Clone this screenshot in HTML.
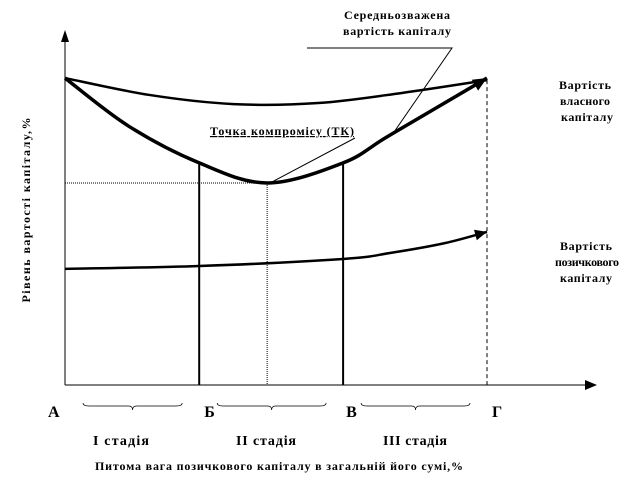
<!DOCTYPE html>
<html><head><meta charset="utf-8"><style>
html,body{margin:0;padding:0;background:#fff;}
svg{display:block;font-family:"Liberation Serif",serif;font-weight:bold;}
</style></head><body>
<svg id="chart" width="621" height="479" viewBox="0 0 621 479" xmlns="http://www.w3.org/2000/svg">
<g id="marks"></g>
<g font-size="12" fill="#000">
<text x="397" y="19" text-anchor="middle" textLength="106">Середньозважена</text>
<text x="397" y="35" text-anchor="middle" textLength="108">вартість капіталу</text>
<text x="210" y="135" textLength="144" text-decoration="underline">Точка компромісу (ТК)</text>
<text x="585" y="89" text-anchor="middle" textLength="52">Вартість</text>
<text x="585" y="105" text-anchor="middle" textLength="50">власного</text>
<text x="587" y="121" text-anchor="middle" textLength="52">капіталу</text>
<text x="586" y="250" text-anchor="middle" textLength="52">Вартість</text>
<text x="587" y="266" text-anchor="middle" textLength="64">позичкового</text>
<text x="586" y="282" text-anchor="middle" textLength="52">капіталу</text>
<text x="121" y="445" text-anchor="middle" font-size="14" textLength="56">І стадія</text>
<text x="266" y="445" text-anchor="middle" font-size="14" textLength="60">ІІ стадія</text>
<text x="415" y="445" text-anchor="middle" font-size="14" textLength="64">ІІІ стадія</text>
<text x="95" y="470" textLength="368" font-size="12">Питома вага позичкового капіталу в загальній його сумі,%</text>
<text transform="translate(30,210) rotate(-90)" text-anchor="middle" textLength="185" font-size="12">Рівень вартості капіталу,%</text>
</g>
</svg>
<script>
const categoriesPoints = ["А","Б","В","Г"];
const pointValues = [0, 31.8, 65.9, 100];
const compromiseX = 47.9;
const equityX = [0, 20, 40, 60, 80, 100];
const equityY = [87.2, 82.4, 79.8, 80.1, 83.0, 86.6];
const waccX = [0, 15, 31.8, 47.9, 65.9, 77, 100];
const waccY = [87.2, 73.6, 63.1, 57.4, 63.1, 71.0, 87.2];
const debtX = [0, 31.8, 65.9, 77, 90, 100];
const debtY = [33.0, 33.8, 35.8, 37.5, 40.3, 43.5];

const X0 = 65, X1 = 487, Y0 = 385, YTOP = 33;
function sx(v){ return X0 + v * (X1 - X0) / 100; }
function sy(v){ return Y0 - v * (Y0 - YTOP) / 100; }
const NS = "http://www.w3.org/2000/svg";
const g = document.getElementById("marks");
function mk(tag, attrs){ const e = document.createElementNS(NS, tag); for (const k in attrs) e.setAttribute(k, attrs[k]); g.appendChild(e); return e; }
function smoothPath(xs, ys){
  const p = xs.map((x,i)=>[sx(x), sy(ys[i])]);
  let d = "M" + p[0][0] + "," + p[0][1];
  for (let i=0;i<p.length-1;i++){
    const a = p[i-1]||p[i], b=p[i], c=p[i+1], e=p[i+2]||p[i+1];
    const c1=[b[0]+(c[0]-a[0])/6, b[1]+(c[1]-a[1])/6];
    const c2=[c[0]-(e[0]-b[0])/6, c[1]-(e[1]-b[1])/6];
    d += " C"+c1[0]+","+c1[1]+" "+c2[0]+","+c2[1]+" "+c[0]+","+c[1];
  }
  return d;
}
function arrowHead(xs, ys, size){
  const n = xs.length;
  const ex = sx(xs[n-1]), ey = sy(ys[n-1]);
  const px = sx(xs[n-2]), py = sy(ys[n-2]);
  const ang = Math.atan2(ey-py, ex-px);
  const bx = ex - size*Math.cos(ang), by = ey - size*Math.sin(ang);
  const w = size*0.45;
  const pts = [[ex,ey],[bx - w*Math.sin(ang), by + w*Math.cos(ang)],[bx + w*Math.sin(ang), by - w*Math.cos(ang)]];
  return pts.map(q=>q.join(",")).join(" ");
}
let e;
e = mk("line",{x1:X0,y1:Y0,x2:X0,y2:42,stroke:"#000","stroke-width":1});


e = mk("polygon",{points:"65,30 61,42 69,42",fill:"#000"});


e = mk("line",{x1:X0,y1:Y0,x2:586,y2:Y0,stroke:"#000","stroke-width":1});


e = mk("polygon",{points:"597,385 585,380 585,390",fill:"#000"});


const tkX = sx(compromiseX);
let tkIdx = waccX.indexOf(compromiseX), tkY = sy(waccY[tkIdx]);
e = mk("line",{x1:X0,y1:tkY,x2:tkX,y2:tkY,stroke:"#000","stroke-width":1,"stroke-dasharray":"1,1"});


e = mk("line",{x1:tkX,y1:tkY,x2:tkX,y2:Y0,stroke:"#000","stroke-width":1,"stroke-dasharray":"1,1"});


[1,2].forEach(i=>{
  const xv = pointValues[i];
  const wi = waccX.indexOf(xv);
  e = mk("line",{x1:sx(xv),y1:sy(waccY[wi]),x2:sx(xv),y2:Y0,stroke:"#000","stroke-width":2});
  
  
});
e = mk("line",{x1:sx(100),y1:sy(equityY[equityY.length-1]),x2:sx(100),y2:Y0,stroke:"#000","stroke-width":1,"stroke-dasharray":"4,3"});


e = mk("path",{d:smoothPath(equityX,equityY),fill:"none",stroke:"#000","stroke-width":2.5});


e = mk("path",{d:smoothPath(waccX,waccY),fill:"none",stroke:"#000","stroke-width":3.5});


e = mk("polygon",{points:arrowHead(waccX,waccY,14),fill:"#000"});


e = mk("path",{d:smoothPath(debtX,debtY),fill:"none",stroke:"#000","stroke-width":2.5});


e = mk("polygon",{points:arrowHead(debtX,debtY,12),fill:"#000"});


e = mk("polyline",{points:"307,48 452,48 392,135",fill:"none",stroke:"#000","stroke-width":1});


e = mk("line",{x1:355,y1:138,x2:tkX+3,y2:tkY,stroke:"#000","stroke-width":1});


const lblOffsets = [-17, 5, 3, 5];
categoriesPoints.forEach((c,i)=>{
  const t = mk("text",{x:sx(pointValues[i])+lblOffsets[i],y:417,"font-size":16});
  t.textContent = c;
  
  
});
for (let i=0;i<3;i++){
  const a = sx(pointValues[i]) + 18, b = sx(pointValues[i+1]) - 17, m=(a+b)/2;
  const d = "M"+a+",403 Q"+a+",406 "+(a+6)+",406 L"+(m-4)+",406 Q"+m+",406 "+m+",410 Q"+m+",406 "+(m+4)+",406 L"+(b-6)+",406 Q"+b+",406 "+b+",403";
  e = mk("path",{d:d,fill:"none",stroke:"#000","stroke-width":0.7});
  
  
}
</script>
</body></html>
